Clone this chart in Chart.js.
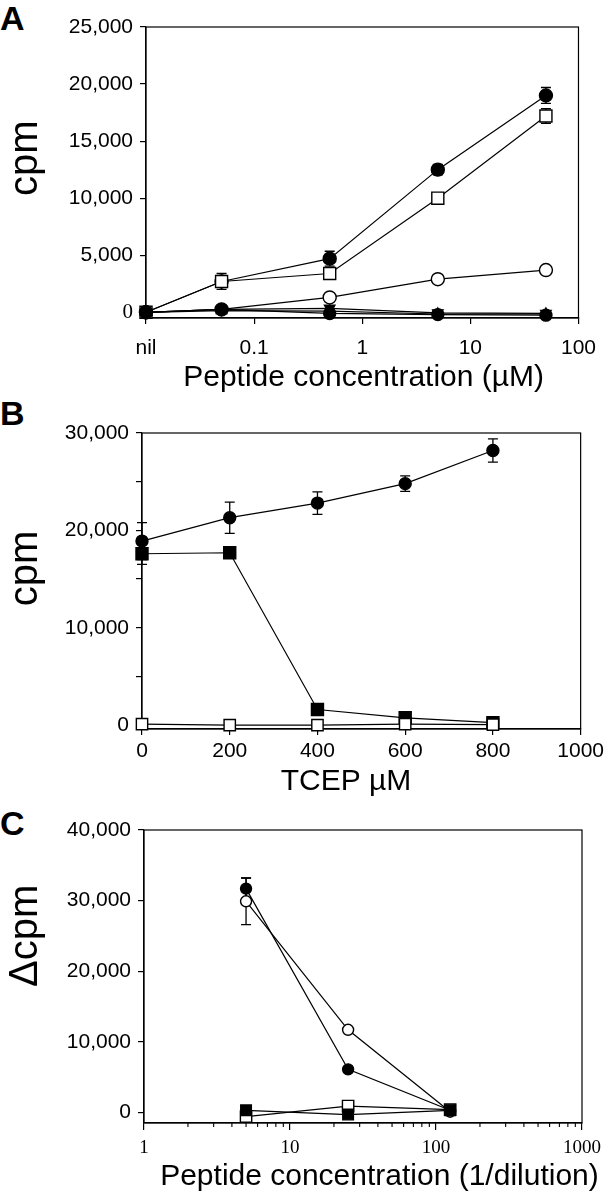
<!DOCTYPE html>
<html><head><meta charset="utf-8">
<script src="https://cdn.jsdelivr.net/npm/chart.js@4.4.1/dist/chart.umd.min.js"></script>
<style>
body{margin:0;background:#fff;width:608px;height:1199px;position:relative;overflow:hidden;font-family:"Liberation Sans",Arial,sans-serif;}
canvas{position:absolute;left:0;}
.lbl{position:absolute;left:0;font-weight:bold;font-size:34px;line-height:1;color:#000;}
</style></head><body>
<div class="lbl" style="top:1px">A</div>
<div class="lbl" style="top:396px">B</div>
<div class="lbl" style="top:806px">C</div>
<canvas id="cA" width="608" height="400" style="top:0"></canvas>
<canvas id="cB" width="608" height="400" style="top:400px"></canvas>
<canvas id="cC" width="608" height="399" style="top:800px"></canvas>
<script>
// ---------- Panel A ----------
const concA = [0.01, 0.05, 0.5, 5, 50];          // 0.01 position is labelled "nil"
const xTicksA = [0.01, 0.1, 1, 10, 100];
const xTickLabelsA = ['nil', '0.1', '1', '10', '100'];
const yTicksA = [0, 5000, 10000, 15000, 20000, 25000];
const filledCircleA = [0, 2700, 4700, 12500, 19000];
const filledCircleErrA = [0, 0, 650, 450, 700];
const openSquareA = [0, 2700, 3400, 10000, 17200];
const openSquareErrA = [0, 700, 0, 0, 650];
const openCircleA = [0, 250, 1300, 2900, 3700];
const smallCircleA = [0, 250, -100, -200, -250];
const triDownA = [0, 250, 350, -50, -100];
const triUpA = [0, 150, 100, -150, -150];

// ---------- Panel B ----------
const tcepB = [0, 200, 400, 600, 800];
const xTicksB = [0, 200, 400, 600, 800, 1000];
const yTicksB = [0, 5000, 10000, 15000, 20000, 25000, 30000];
const yLabelledB = [0, 10000, 20000, 30000];
const filledCircleB = [18900, 21300, 22800, 24800, 28200];
const filledCircleErrB = [1900, 1600, 1150, 800, 1200];
const filledSquareB = [17600, 17700, 1600, 750, 250];
const filledSquareErrB = [1100, 0, 0, 0, 0];
const openSquareB = [100, 0, 0, 100, 50];

// ---------- Panel C ----------
const dilC = [5, 25, 125];
const xTicksC = [1, 10, 100, 1000];
const xMinorC = [2,3,4,5,6,7,8,9,20,30,40,50,60,70,80,90,200,300,400,500,600,700,800,900];
const yTicksC = [0, 10000, 20000, 30000, 40000];
const filledCircleC = [31700, 6100, 300];
const filledCircleErrC = [1500, 0, 0];
const openCircleC = [29900, 11700, 100];
const openCircleErrC = [3300, 0, 0];
const filledSquareC = [300, -300, 300];
const openSquareC = [-600, 900, 400];

const SANS = '"Liberation Sans", Arial, sans-serif';
const SERIF = '"Liberation Serif", "Times New Roman", serif';

function pts(xs, ys){ return xs.map((x,i)=>({x:x, y:ys[i]})); }
function fmt(v){ return v.toLocaleString('en-US'); }

function series(xs, ys, style, opts){
  opts = opts || {};
  const filled = style.filled;
  return Object.assign({
    data: pts(xs, ys),
    showLine: true,
    borderColor: '#000',
    borderWidth: 1.2,
    pointStyle: style.shape,
    pointRadius: style.r,
    pointRotation: style.rot || 0,
    pointBackgroundColor: filled ? '#000' : '#fff',
    pointBorderColor: '#000',
    pointBorderWidth: 1.4,
    clip: false,
    tension: 0
  }, opts);
}

const errorBars = {
  id: 'errorBars',
  beforeDatasetsDraw(chart){
    const ctx = chart.ctx, xs = chart.scales.x, ys = chart.scales.y;
    chart.data.datasets.forEach(ds => {
      if (!ds.errors) return;
      ctx.save();
      ctx.strokeStyle = '#000'; ctx.lineWidth = 1.3;
      ds.data.forEach((p, i) => {
        const e = ds.errors[i]; if (!e) return;
        const x = xs.getPixelForValue(p.x);
        const y1 = ys.getPixelForValue(p.y + e), y2 = ys.getPixelForValue(p.y - e);
        ctx.beginPath();
        ctx.moveTo(x, y1); ctx.lineTo(x, y2);
        ctx.moveTo(x - 5, y1); ctx.lineTo(x + 5, y1);
        ctx.moveTo(x - 5, y2); ctx.lineTo(x + 5, y2);
        ctx.stroke();
      });
      ctx.restore();
    });
  }
};
const frame = {
  id: 'frame',
  beforeDatasetsDraw(chart){
    const a = chart.chartArea, ctx = chart.ctx;
    ctx.save(); ctx.strokeStyle = '#000'; ctx.lineWidth = 1.2;
    ctx.strokeRect(a.left, a.top, a.right - a.left, a.bottom - a.top);
    ctx.restore();
  }
};
const minorTicks = {
  id: 'minorTicks',
  afterDraw(chart, args, o){
    if (!o.values) return;
    const ctx = chart.ctx, xs = chart.scales.x, b = chart.chartArea.bottom;
    ctx.save(); ctx.strokeStyle = '#000'; ctx.lineWidth = 1.1;
    ctx.beginPath();
    o.values.forEach(v => { const x = xs.getPixelForValue(v); ctx.moveTo(x, b); ctx.lineTo(x, b + 4); });
    ctx.stroke(); ctx.restore();
  }
};
// axis titles: y title vertical, centred at a y value; x title centred at an x value
const axisTitles = {
  id: 'axisTitles',
  afterDraw(chart, args, o){
    const ctx = chart.ctx;
    ctx.save();
    ctx.fillStyle = '#000'; ctx.textAlign = 'center'; ctx.textBaseline = 'middle';
    // y
    const y = chart.scales.y.getPixelForValue(o.yAt);
    ctx.save();
    ctx.translate(26, y); ctx.rotate(-Math.PI / 2);
    ctx.font = '40px ' + SANS;
    ctx.fillText(o.yText, 0, 0);
    ctx.restore();
    // x
    ctx.font = '30px ' + SANS;
    ctx.fillText(o.xText, chart.scales.x.getPixelForValue(o.xAt), o.xY);
    ctx.restore();
  }
};

function axisCommon(tickLen){
  return {
    grid: {display: true, drawOnChartArea: false, drawTicks: true, tickLength: tickLen, color: '#000', lineWidth: 1.2},
    border: {display: true, color: '#000', width: 1.2}
  };
}

function makeChart(id, datasets, p){
  return new Chart(document.getElementById(id), {
    type: 'scatter',
    data: {datasets: datasets},
    plugins: [frame, errorBars, minorTicks, axisTitles],
    options: {
      responsive: false, animation: false, devicePixelRatio: 1,
      layout: {padding: {left: 0, top: p.top, right: p.right, bottom: 0}},
      plugins: {legend: {display: false}, tooltip: {enabled: false},
                minorTicks: {values: p.minor},
                axisTitles: {yText: p.yTitle, yAt: p.yTitleAt, xText: p.xTitle, xAt: p.xTitleAt, xY: p.xTitleY}},
      scales: {
        x: Object.assign(axisCommon(p.xTickLen || 6), {
          type: p.xType, min: p.xMin, max: p.xMax,
          afterFit: s => { s.height = p.xH; },
          afterBuildTicks: s => { s.ticks = p.xTicks.map(v => ({value: v})); },
          ticks: {color: '#000', padding: p.xPad, maxRotation: 0, autoSkip: false,
                  font: {family: p.xFont || SANS, size: p.xSize || 21},
                  callback: p.xLabel}
        }),
        y: Object.assign(axisCommon(6), {
          type: 'linear', min: p.yMin, max: p.yMax,
          afterFit: s => { s.width = p.left; },
          afterBuildTicks: s => { s.ticks = p.yTicks.map(v => ({value: v})); },
          ticks: {color: '#000', padding: 7, autoSkip: false,
                  font: p.yFont || {family: SANS, size: 21},
                  callback: p.yLabel}
        })
      }
    }
  });
}

// Panel A
makeChart('cA', [
  series(concA, triUpA, {shape: 'triangle', r: 6, filled: true}),
  series(concA, triDownA, {shape: 'triangle', r: 6, rot: 180, filled: true}),
  series(concA, smallCircleA, {shape: 'circle', r: 6, filled: true}),
  series(concA, openCircleA, {shape: 'circle', r: 6.5, filled: false}),
  series(concA, openSquareA, {shape: 'rect', r: 8.5, filled: false}, {errors: openSquareErrA}),
  series(concA, filledCircleA, {shape: 'circle', r: 6.5, filled: true}, {errors: filledCircleErrA})
], {
  top: 27, right: 25, left: 146, xH: 82,
  xType: 'logarithmic', xMin: 0.01, xMax: 100, xTicks: xTicksA,
  xLabel: (v, i) => xTickLabelsA[i], xPad: 12,
  xTitle: 'Peptide concentration (µM)', xTitleAt: 1.03, xTitleY: 378,
  yMin: -500, yMax: 25000, yTicks: yTicksA, yLabel: v => fmt(v), yTitle: 'cpm', yTitleAt: 13500,
  yFont: ctx => ({family: ctx.tick && ctx.tick.value === 0 ? SERIF : SANS, size: 21})
});

// Panel B
makeChart('cB', [
  series(tcepB, openSquareB, {shape: 'rect', r: 8, filled: false}),
  series(tcepB, filledSquareB, {shape: 'rect', r: 8.5, filled: true}, {errors: filledSquareErrB}),
  series(tcepB, filledCircleB, {shape: 'circle', r: 6, filled: true}, {errors: filledCircleErrB})
], {
  top: 33, right: 25, left: 142, xH: 71,
  xType: 'linear', xMin: 0, xMax: 1000, xTicks: xTicksB,
  xLabel: v => String(v), xPad: 4,
  xTitle: 'TCEP µM', xTitleAt: 465, xTitleY: 382,
  yMin: -400, yMax: 30000, yTicks: yTicksB,
  yLabel: v => yLabelledB.includes(v) ? fmt(v) : '', yTitle: 'cpm', yTitleAt: 16100
});

// Panel C
makeChart('cC', [
  series(dilC, filledSquareC, {shape: 'rect', r: 7.5, filled: true}),
  series(dilC, openSquareC, {shape: 'rect', r: 8, filled: false}),
  series(dilC, filledCircleC, {shape: 'circle', r: 5.5, filled: true}, {errors: filledCircleErrC}),
  series(dilC, openCircleC, {shape: 'circle', r: 5.5, filled: false}, {errors: openCircleErrC})
], {
  top: 30, right: 26, left: 144, xH: 76,
  xType: 'logarithmic', xMin: 1, xMax: 1000, xTicks: xTicksC, minor: xMinorC, xTickLen: 7,
  xLabel: v => String(v), xPad: 7, xFont: SERIF, xSize: 19,
  xTitle: 'Peptide concentration (1/dilution)', xTitleAt: 41, xTitleY: 377,
  yMin: -1500, yMax: 40000, yTicks: yTicksC, yLabel: v => fmt(v), yTitle: 'Δcpm', yTitleAt: 25000
});
</script>
</body></html>
